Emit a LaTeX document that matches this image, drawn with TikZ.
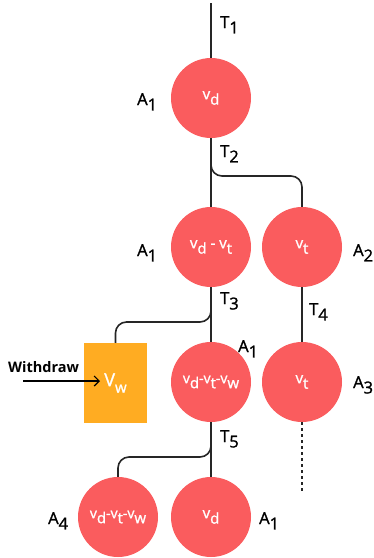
\documentclass[tikz,border=0pt]{standalone}
\usepackage{fontspec}
\setmainfont{Open Sans}
\newfontfamily\medfont{Open Sans}[FakeBold=1.3]
\usetikzlibrary{arrows.meta}
\definecolor{nodered}{HTML}{FA5C5E}
\definecolor{boxorange}{HTML}{FFAC22}
\newcommand{\lsub}[1]{\raisebox{-0.33em}{#1}}
\newcommand{\csub}[1]{\raisebox{-0.36em}{\fontsize{15}{15}\selectfont #1}}
\begin{document}
\begin{tikzpicture}[x=1pt,y=-1pt,
  st/.style={circle, fill=nodered, minimum size=80pt, inner sep=0pt, text=white, font=\medfont\fontsize{15}{17}\selectfont},
  wbox/.style={rectangle, fill=boxorange, minimum width=63pt, minimum height=80pt, inner sep=0pt, text=white, font=\medfont\fontsize{18}{20}\selectfont},
  lbl/.style={anchor=base west, inner sep=0pt, font=\medfont\fontsize{16.5}{18}\selectfont},
  conn/.style={line width=1.6pt, black!85},
  bconn/.style={conn, rounded corners=11pt}]
\useasboundingbox (0,0) rectangle (374,558);
% nodes
\node[st] (c1) at (211,98) {v\csub{d}};
\node[st] (c2) at (211,247) {v\csub{d} - v\csub{t}};
\node[st, font=\medfont\fontsize{14}{16}\selectfont] (c4) at (211,382) {v\csub{d}-v\csub{t}-v\csub{w}};
\node[st] (c3) at (302,247) {v\csub{t}};
\node[st] (c5) at (302,382) {v\csub{t}};
\node[wbox] (w) at (115.5,383) {V\csub{w}};
\node[st, font=\medfont\fontsize{14}{16}\selectfont] (c6) at (118,517) {v\csub{d}-v\csub{t}-v\csub{w}};
\node[st] (c7) at (211,517) {v\csub{d}};
% labels
\node[lbl] (t1) at (220,28) {T\lsub{1}};
\node[lbl] (t2) at (220,157) {T\lsub{2}};
\node[lbl] (t3) at (220,304) {T\lsub{3}};
\node[lbl] (t4) at (309,315) {T\lsub{4}};
\node[lbl] (t5) at (220,442) {T\lsub{5}};
\node[lbl] (a1) at (137,105) {A\lsub{1}};
\node[lbl] (a1b) at (137,256) {A\lsub{1}};
\node[lbl] (a2) at (353,256) {A\lsub{2}};
\node[lbl] (a1c) at (238,352) {A\lsub{1}};
\node[lbl] (a3) at (353,388) {A\lsub{3}};
\node[lbl] (a4) at (48,524) {A\lsub{4}};
\node[lbl] (a1d) at (259,524) {A\lsub{1}};
\node[anchor=base west, inner sep=0pt, font=\fontsize{14.5}{16}\selectfont\bfseries] (wd) at (8,372) {Withdraw};
% coordinates
\coordinate (top) at (211,3);
\coordinate (b1) at (211,160);
\coordinate (b2) at (211,305);
\coordinate (b3) at (211,440);
\coordinate (win) at (23,381);
\coordinate (wtip) at (100,381);
\coordinate (dotend) at (302,491);
% connectors
\draw[conn] (top) -- (c1.north);
\draw[conn] (c1.south) -- (c2.north);
\draw[bconn] (b1) |- (c3.north |- 0,176) -- (c3.north);
\draw[conn] (c2.south) -- (c4.north);
\draw[bconn] (b2) |- (w.north |- 0,322) -- (w.north);
\draw[conn] (c3.south) -- (c5.north);
\draw[conn, dash pattern=on 3pt off 3pt] (c5.south) -- (dotend);
\draw[conn] (c4.south) -- (c7.north);
\draw[bconn] (b3) |- (c6.north |- 0,457) -- (c6.north);
\draw[line width=1.2pt, -{Straight Barb[length=5pt,width=10pt]}] (win) -- (wtip);
\end{tikzpicture}
\end{document}
